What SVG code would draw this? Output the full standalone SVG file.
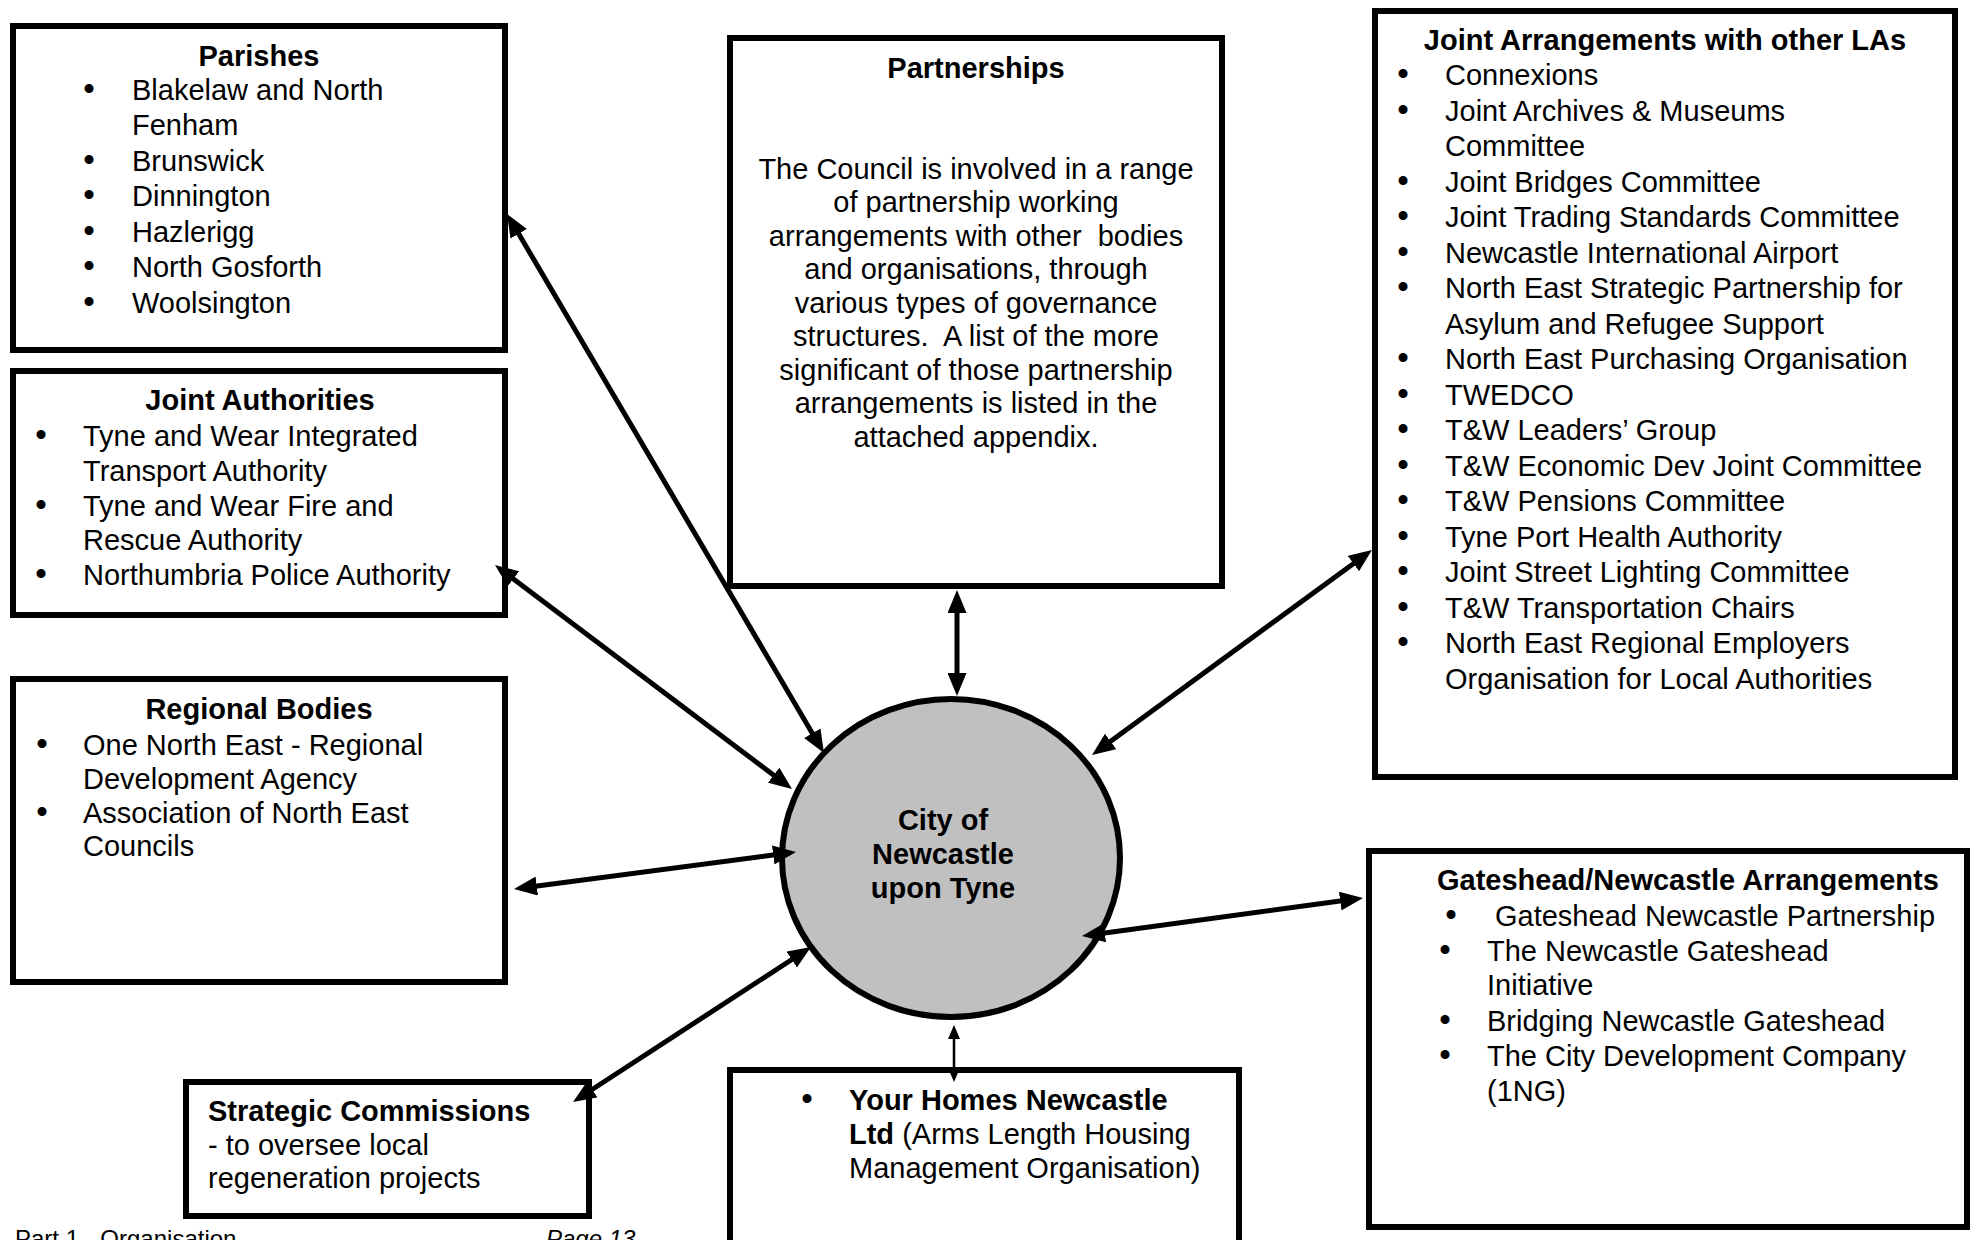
<svg xmlns="http://www.w3.org/2000/svg" width="1975" height="1240" viewBox="0 0 1975 1240">
<style>
.box{fill:#fff;stroke:#000;stroke-width:6}
.t{font-family:"Liberation Sans",Arial,sans-serif;font-size:29px;fill:#000}
.b{font-weight:bold}
.m{text-anchor:middle}
.bl{font-size:33px;text-anchor:middle}
.pre{white-space:pre}
.c{stroke:#000;stroke-width:5;fill:none;marker-start:url(#ah);marker-end:url(#ah)}
.cs{stroke:#000;stroke-width:2.5;fill:none;marker-start:url(#ahs);marker-end:url(#ahs)}
.f{font-family:"Liberation Sans",Arial,sans-serif;font-size:24px;fill:#000}
</style>
<defs>
<marker id="ah" markerUnits="userSpaceOnUse" viewBox="0 0 23 19" markerWidth="23" markerHeight="19" refX="13" refY="9.5" orient="auto-start-reverse"><path d="M0,0 L23,9.5 L0,19 z" fill="#000"/></marker>
<marker id="ahs" markerUnits="userSpaceOnUse" viewBox="0 0 14 12" markerWidth="14" markerHeight="12" refX="8" refY="6" orient="auto-start-reverse"><path d="M0,0 L14,6 L0,12 z" fill="#000"/></marker>
</defs>
<rect width="1975" height="1240" fill="#fff"/>

<g id="parishes">
<rect class="box" x="13" y="26" width="492" height="324"/>
<text class="t b m" x="259" y="66">Parishes</text>
<g class="t">
<text x="89" y="100" class="bl">•</text><text x="132" y="100">Blakelaw and North</text>
<text x="132" y="135">Fenham</text>
<text x="89" y="171" class="bl">•</text><text x="132" y="171">Brunswick</text>
<text x="89" y="206" class="bl">•</text><text x="132" y="206">Dinnington</text>
<text x="89" y="242" class="bl">•</text><text x="132" y="242">Hazlerigg</text>
<text x="89" y="277" class="bl">•</text><text x="132" y="277">North Gosforth</text>
<text x="89" y="313" class="bl">•</text><text x="132" y="313">Woolsington</text>
</g>
</g>

<g id="joint-authorities">
<rect class="box" x="13" y="371" width="492" height="244"/>
<text class="t b m" x="260" y="410">Joint Authorities</text>
<g class="t">
<text x="41" y="446" class="bl">•</text><text x="83" y="446">Tyne and Wear Integrated</text>
<text x="83" y="481">Transport Authority</text>
<text x="41" y="516" class="bl">•</text><text x="83" y="516">Tyne and Wear Fire and</text>
<text x="83" y="550">Rescue Authority</text>
<text x="41" y="585" class="bl">•</text><text x="83" y="585">Northumbria Police Authority</text>
</g>
</g>

<g id="regional-bodies">
<rect class="box" x="13" y="679" width="492" height="303"/>
<text class="t b m" x="259" y="719">Regional Bodies</text>
<g class="t">
<text x="42" y="755" class="bl">•</text><text x="83" y="755">One North East - Regional</text>
<text x="83" y="789">Development Agency</text>
<text x="42" y="823" class="bl">•</text><text x="83" y="823">Association of North East</text>
<text x="83" y="856">Councils</text>
</g>
</g>

<g id="strategic-commissions">
<rect class="box" x="186" y="1082" width="403" height="134"/>
<text class="t b" x="208" y="1121">Strategic Commissions</text>
<text class="t" x="208" y="1155">- to oversee local</text>
<text class="t" x="208" y="1188">regeneration projects</text>
</g>

<g id="partnerships">
<rect class="box" x="730" y="38" width="492" height="548"/>
<text class="t b m" x="976" y="78">Partnerships</text>
<g class="t m">
<text x="976" y="179">The Council is involved in a range</text>
<text x="976" y="212">of partnership working</text>
<text x="976" y="246" class="pre" xml:space="preserve">arrangements with other  bodies</text>
<text x="976" y="279">and organisations, through</text>
<text x="976" y="313">various types of governance</text>
<text x="976" y="346" class="pre" xml:space="preserve">structures.  A list of the more</text>
<text x="976" y="380">significant of those partnership</text>
<text x="976" y="413">arrangements is listed in the</text>
<text x="976" y="447">attached appendix.</text>
</g>
</g>

<g id="city">
<ellipse cx="951" cy="858" rx="169" ry="159" fill="#c0c0c0" stroke="#000" stroke-width="6"/>
<text class="t b m" x="943" y="830">City of</text>
<text class="t b m" x="943" y="864">Newcastle</text>
<text class="t b m" x="943" y="898">upon Tyne</text>
</g>

<g id="your-homes">
<rect class="box" x="730" y="1070" width="509" height="200"/>
<text class="t bl" x="807" y="1110">•</text>
<text class="t b" x="849" y="1110">Your Homes Newcastle</text>
<text class="t" x="849" y="1144"><tspan font-weight="bold">Ltd</tspan> (Arms Length Housing</text>
<text class="t" x="849" y="1178">Management Organisation)</text>
</g>

<g id="joint-arrangements">
<rect class="box" x="1375" y="11" width="580" height="766"/>
<text class="t b m" x="1665" y="50">Joint Arrangements with other LAs</text>
<g class="t">
<text x="1403" y="85" class="bl">•</text><text x="1445" y="85">Connexions</text>
<text x="1403" y="120.5" class="bl">•</text><text x="1445" y="120.5">Joint Archives &amp; Museums</text>
<text x="1445" y="156">Committee</text>
<text x="1403" y="191.5" class="bl">•</text><text x="1445" y="191.5">Joint Bridges Committee</text>
<text x="1403" y="227" class="bl">•</text><text x="1445" y="227">Joint Trading Standards Committee</text>
<text x="1403" y="262.5" class="bl">•</text><text x="1445" y="262.5">Newcastle International Airport</text>
<text x="1403" y="298" class="bl">•</text><text x="1445" y="298">North East Strategic Partnership for</text>
<text x="1445" y="333.5">Asylum and Refugee Support</text>
<text x="1403" y="369" class="bl">•</text><text x="1445" y="369">North East Purchasing Organisation</text>
<text x="1403" y="404.5" class="bl">•</text><text x="1445" y="404.5">TWEDCO</text>
<text x="1403" y="440" class="bl">•</text><text x="1445" y="440">T&amp;W Leaders’ Group</text>
<text x="1403" y="475.5" class="bl">•</text><text x="1445" y="475.5">T&amp;W Economic Dev Joint Committee</text>
<text x="1403" y="511" class="bl">•</text><text x="1445" y="511">T&amp;W Pensions Committee</text>
<text x="1403" y="546.5" class="bl">•</text><text x="1445" y="546.5">Tyne Port Health Authority</text>
<text x="1403" y="582" class="bl">•</text><text x="1445" y="582">Joint Street Lighting Committee</text>
<text x="1403" y="617.5" class="bl">•</text><text x="1445" y="617.5">T&amp;W Transportation Chairs</text>
<text x="1403" y="653" class="bl">•</text><text x="1445" y="653">North East Regional Employers</text>
<text x="1445" y="688.5">Organisation for Local Authorities</text>
</g>
</g>

<g id="gateshead-newcastle">
<rect class="box" x="1369" y="851" width="598" height="376"/>
<text class="t b" x="1437" y="890">Gateshead/Newcastle Arrangements</text>
<g class="t">
<text x="1451" y="926" class="bl">•</text><text x="1495" y="926">Gateshead Newcastle Partnership</text>
<text x="1445" y="961" class="bl">•</text><text x="1487" y="961">The Newcastle Gateshead</text>
<text x="1487" y="995">Initiative</text>
<text x="1445" y="1031" class="bl">•</text><text x="1487" y="1031">Bridging Newcastle Gateshead</text>
<text x="1445" y="1066" class="bl">•</text><text x="1487" y="1066">The City Development Company</text>
<text x="1487" y="1101">(1NG)</text>
</g>
</g>

<g id="connectors">
<line class="c" x1="512.1" y1="222.6" x2="818.9" y2="744.4"/>
<line class="c" x1="503" y1="571" x2="784" y2="783"/>
<line class="c" x1="523.9" y1="887.7" x2="786.1" y2="853.3"/>
<line class="c" x1="581.4" y1="1096.5" x2="802.6" y2="952.5"/>
<line class="c" x1="957" y1="600" x2="957" y2="686"/>
<line class="c" x1="1363.9" y1="555.9" x2="1100.1" y2="749.1"/>
<line class="c" x1="1353.1" y1="899.3" x2="1091.9" y2="934.7"/>
<line class="cs" x1="954" y1="1031" x2="954" y2="1076"/>
</g>

<g id="footer">
<text class="f" x="15" y="1247">Part 1 - Organisation</text>
<text class="f" x="546" y="1247" font-style="italic">Page 13</text>
</g>
</svg>
